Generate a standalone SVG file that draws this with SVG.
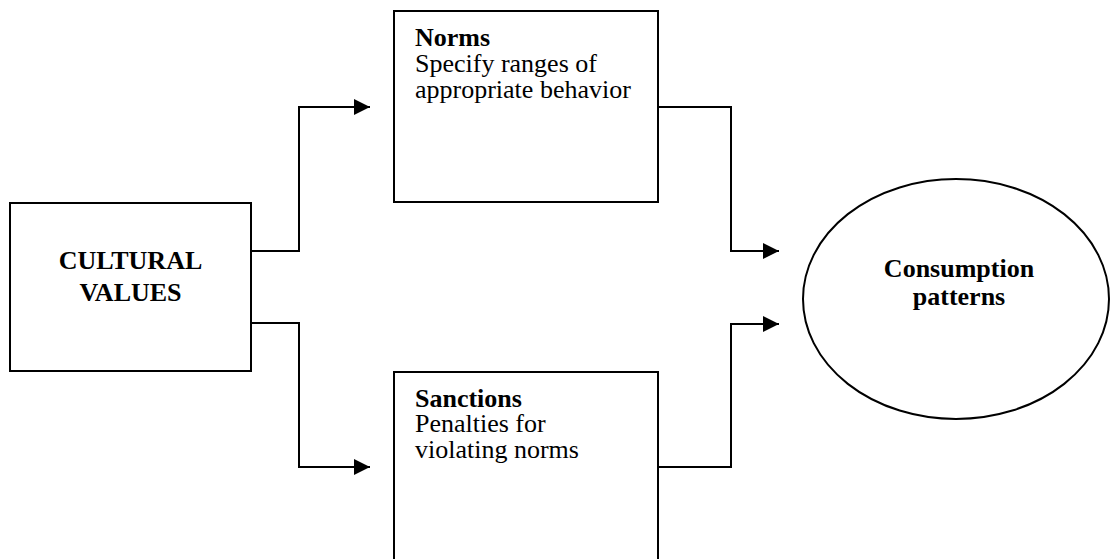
<svg xmlns="http://www.w3.org/2000/svg" width="1111" height="559" viewBox="0 0 1111 559">
  <style>
    .box { fill: #ffffff; stroke: #000000; stroke-width: 2; }
    .wire { fill: none; stroke: #000000; stroke-width: 2; }
    .t { font-family: "Liberation Serif", "Times New Roman", serif; font-size: 26px; fill: #000000; }
    .b { font-weight: bold; }
    .c { text-anchor: middle; }
  </style>
  <defs>
    <marker id="head" viewBox="0 0 16 16" refX="16" refY="8" markerWidth="16" markerHeight="16" markerUnits="userSpaceOnUse" orient="auto">
      <path d="M0,0 L16,8 L0,16 Z" fill="#000000"/>
    </marker>
  </defs>
  <rect width="1111" height="559" fill="#ffffff"/>

  <g id="connectors">
    <polyline class="wire" points="251,251 299,251 299,107 370,107" marker-end="url(#head)"/>
    <polyline class="wire" points="251,323 299,323 299,467 370,467" marker-end="url(#head)"/>
    <polyline class="wire" points="658,107 731,107 731,251 779,251" marker-end="url(#head)"/>
    <polyline class="wire" points="658,467 731,467 731,324 779,324" marker-end="url(#head)"/>
  </g>

  <g id="cultural-values">
    <rect class="box" x="10" y="203" width="241" height="168"/>
    <text class="t b c" x="130.5" y="269">CULTURAL</text>
    <text class="t b c" x="130.5" y="301">VALUES</text>
  </g>

  <g id="norms">
    <rect class="box" x="394" y="11" width="264" height="191"/>
    <text class="t b" x="415" y="46">Norms</text>
    <text class="t" x="415" y="72">Specify ranges of</text>
    <text class="t" x="415" y="98">appropriate behavior</text>
  </g>

  <g id="sanctions">
    <rect class="box" x="394" y="372" width="264" height="200"/>
    <text class="t b" x="415" y="407">Sanctions</text>
    <text class="t" x="415" y="432">Penalties for</text>
    <text class="t" x="415" y="458">violating norms</text>
  </g>

  <g id="consumption-patterns">
    <ellipse class="box" cx="956" cy="299" rx="153" ry="120"/>
    <text class="t b c" x="959" y="277">Consumption</text>
    <text class="t b c" x="959" y="305">patterns</text>
  </g>
</svg>
